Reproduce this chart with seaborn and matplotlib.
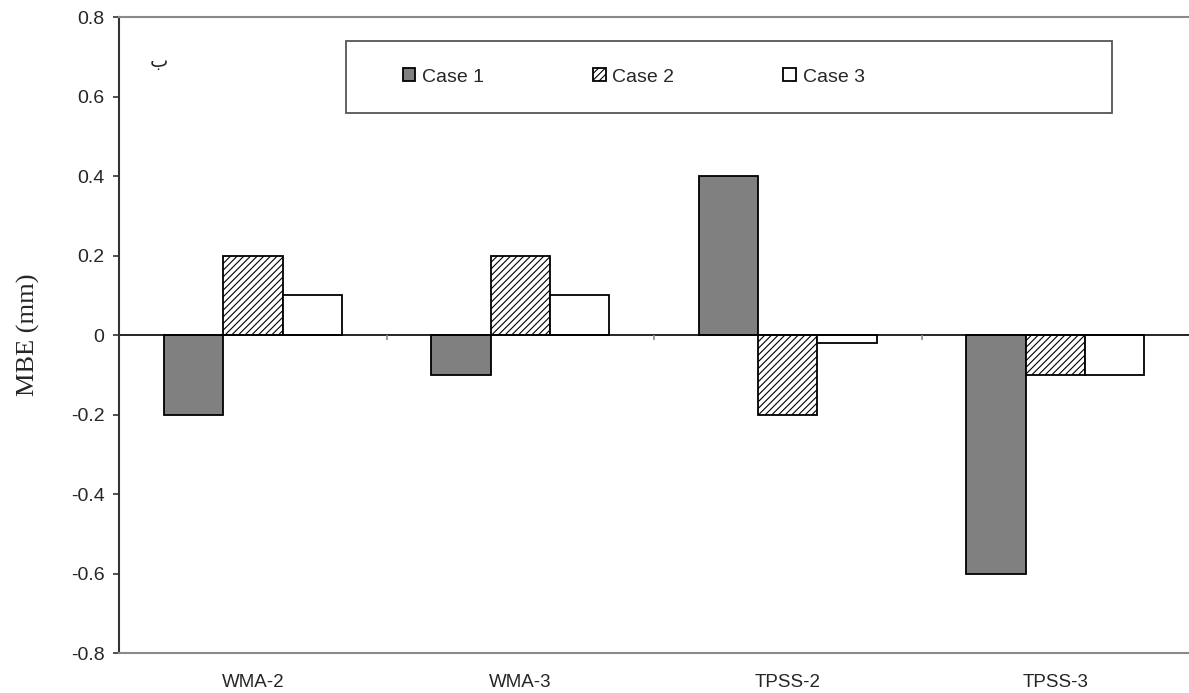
import matplotlib
matplotlib.use("Agg")
import matplotlib.pyplot as plt
import matplotlib.patches as mpatches
import pandas as pd
import seaborn as sns

# datos
metodos = ["WMA-2", "WMA-3", "TPSS-2", "TPSS-3"]
casos = ["Case 1", "Case 2", "Case 3"]
case1 = [-0.2, -0.1, 0.4, -0.6]
case2 = [0.2, 0.2, -0.2, -0.1]
case3 = [0.1, 0.1, -0.02, -0.1]

df = pd.DataFrame({
    "metodo": metodos * 3,
    "caso": [c for c in casos for _ in metodos],
    "mbe": case1 + case2 + case3,
})

sns.set_style("white")
plt.rcParams["font.family"] = ["Liberation Sans", "DejaVu Sans"]
plt.rcParams["hatch.linewidth"] = 0.8

fig = plt.figure(figsize=(11.89, 6.93), dpi=100)
ax = fig.add_axes([0.1001, 0.0577, 0.8999, 0.9177])

sns.barplot(data=df, x="metodo", y="mbe", hue="caso", order=metodos,
            hue_order=casos, width=0.667, legend=False, ax=ax,
            palette=["#808080", "white", "white"], saturation=1)

hatches = ["", "/////", ""]
for cont, h, lab in zip(ax.containers, hatches, casos):
    cont.set_label(lab)
    for p in cont.patches:
        p.set_edgecolor("black")
        p.set_linewidth(1.3)
        p.set_hatch(h)

ax.set_ylim(-0.8, 0.8)
ax.set_xlim(-0.5, 3.5)
ax.set_yticks([-0.8, -0.6, -0.4, -0.2, 0, 0.2, 0.4, 0.6, 0.8])
ax.set_yticklabels(["-0.8", "-0.6", "-0.4", "-0.2", "0", "0.2", "0.4", "0.6", "0.8"])
ax.tick_params(axis="y", left=True, length=4.5, width=1.2, color="#333333",
               pad=6, labelsize=14)
ax.tick_params(axis="x", length=0, pad=15, labelsize=13.5)
ax.set_xlabel("")
ax.set_ylabel("MBE (mm)", fontsize=19, family="Liberation Serif")
ax.yaxis.set_label_coords(-0.074, 0.5)

# ejes
ax.spines["right"].set_visible(False)
ax.spines["left"].set_color("#333333")
ax.spines["left"].set_linewidth(1.5)
for s in ["top", "bottom"]:
    ax.spines[s].set_color("#8a8a8a")
    ax.spines[s].set_linewidth(1.5)
ax.axhline(0, color="black", lw=1.2, zorder=1)
ax.vlines([0.5, 1.5, 2.5], -0.013, 0, color="#8a8a8a", lw=1.2)

# letra
ax.text(0.0375, 0.93, "ب", transform=ax.transAxes, fontsize=14,
        family="DejaVu Sans", ha="center", va="center")

# leyenda
caja = mpatches.Rectangle((0.2121, 0.8491), 0.7159, 0.1132,
                          transform=ax.transAxes, fill=False,
                          edgecolor="#555555", lw=1.3, zorder=5)
ax.add_patch(caja)
ax.legend(handles=list(ax.containers), labels=casos, ncol=3, loc="center left",
          bbox_to_anchor=(0.256, 0.9057), frameon=False, fontsize=14,
          borderpad=0, handlelength=0.65, handleheight=0.65, handletextpad=0.35,
          columnspacing=5.6)

fig.savefig("out.png", dpi=100)
